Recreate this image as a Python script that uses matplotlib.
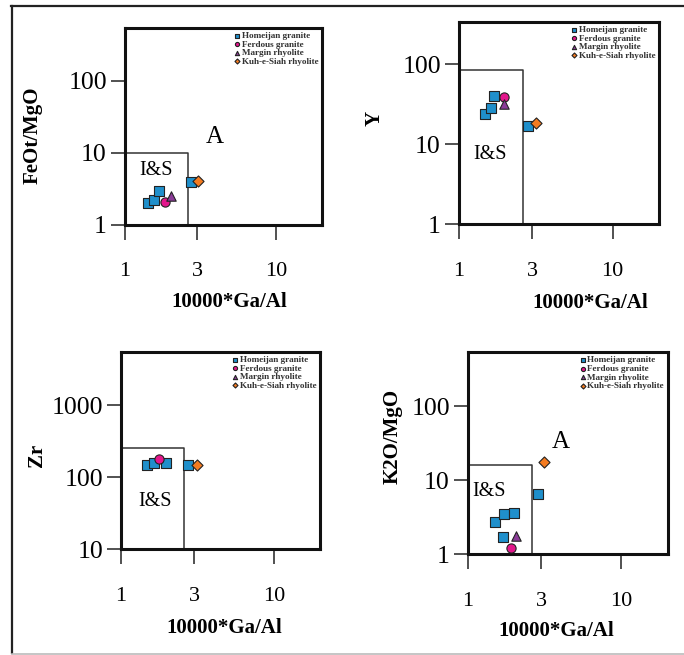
import matplotlib
matplotlib.use("Agg")
import matplotlib.pyplot as plt
from matplotlib.lines import Line2D

# ---- data ----
series_names = ["Homeijan granite", "Ferdous granite", "Margin rhyolite", "Kuh-e-Siah rhyolite"]

# FeOt/MgO vs 10000*Ga/Al
feo_hom_x = [1.42, 1.56, 1.68, 2.74]
feo_hom_y = [2.02, 2.22, 2.97, 3.96]
feo_fer_x = [1.84]
feo_fer_y = [2.09]
feo_mar_x = [2.02]
feo_mar_y = [2.55]
feo_kuh_x = [3.04]
feo_kuh_y = [4.08]

# Y vs 10000*Ga/Al
y_hom_x = [1.48, 1.62, 1.70, 2.83]
y_hom_y = [23.7, 28.5, 40.0, 16.8]
y_fer_x = [1.97]
y_fer_y = [38.6]
y_mar_x = [1.97]
y_mar_y = [31.6]
y_kuh_x = [3.19]
y_kuh_y = [18.3]

# Zr vs 10000*Ga/Al
zr_hom_x = [1.48, 1.65, 1.98, 2.76]
zr_hom_y = [147, 156, 156, 147]
zr_fer_x = [1.78]
zr_fer_y = [178]
zr_mar_x = []
zr_mar_y = []
zr_kuh_x = [3.16]
zr_kuh_y = [147]

# K2O/MgO vs 10000*Ga/Al
k_hom_x = [1.50, 1.72, 2.00, 1.69, 2.87]
k_hom_y = [2.71, 3.47, 3.58, 1.70, 6.5]
k_fer_x = [1.91]
k_fer_y = [1.20]
k_mar_x = [2.06]
k_mar_y = [1.75]
k_kuh_x = [3.14]
k_kuh_y = [17.5]

# I&S field limits
gaal_limit = 2.6
feo_limit = 10
y_limit = 85
zr_limit = 250
k_limit = 16

x_ticks = [1, 3, 10]

# ---- styles ----
colors = ["#1f8fcb", "#e3168c", "#8b3c98", "#f47b20"]
markers = ["s", "o", "^", "D"]
sizes = [50, 44, 46, 32]
serif = "Liberation Serif"


def draw_panel(ax, pts, ylim, yticks, limit, ylabel, ylab_pos, xlab_pos, is_pos, a_pos=None):
  for (px, py), c, m, s, name in zip(pts, colors, markers, sizes, series_names):
    ax.scatter(px, py, c=c, marker=m, s=s, edgecolors="#222222", linewidths=0.8,
               label=name, zorder=3)
  ax.set_xscale("log")
  ax.set_yscale("log")
  ax.set_xlim(1, 20)
  ax.set_ylim(*ylim)
  ax.set_xticks(x_ticks)
  ax.set_xticklabels([str(t) for t in x_ticks], fontfamily=serif, fontsize=16)
  ax.set_yticks(yticks)
  ax.set_yticklabels([str(t) for t in yticks], fontfamily=serif, fontsize=18.5)
  ax.minorticks_off()
  ax.tick_params(axis="x", direction="out", length=11, width=1.2, color="#333333", pad=16)
  ax.tick_params(axis="y", direction="out", length=10, width=1.2, color="#333333", pad=3)
  for sp in ax.spines.values():
    sp.set_linewidth(2.2)
    sp.set_color("#111111")
  # I&S field box
  ax.plot([1, gaal_limit, gaal_limit], [limit, limit, ylim[0]], color="#333333", lw=1.1, zorder=2)
  ax.text(is_pos[0], is_pos[1], "I&S", fontfamily=serif, fontsize=14.5, ha="center", va="center")
  if a_pos is not None:
    ax.text(a_pos[0], a_pos[1], "A", fontfamily=serif, fontsize=18, ha="center", va="center")
  ax.text(ylab_pos[0], ylab_pos[1], ylabel, transform=ax.transAxes, rotation=90,
          fontfamily=serif, fontweight="bold", fontsize=15, ha="center", va="center")
  ax.text(xlab_pos[0], xlab_pos[1], "10000*Ga/Al", transform=ax.transAxes,
          fontfamily=serif, fontweight="bold", fontsize=15, ha="center", va="center")
  leg = ax.legend(loc="upper right", frameon=False, markerscale=0.45,
                  labelspacing=0.02, handletextpad=0.1, handlelength=0.8,
                  borderaxespad=0.2, borderpad=0.2,
                  prop={"family": serif, "weight": "bold", "size": 6.6})
  for t in leg.get_texts():
    t.set_color("#333333")


fig = plt.figure(figsize=(6.84, 6.55), dpi=100)

ax1 = fig.add_axes([0.1827, 0.6565, 0.288, 0.3008])
draw_panel(ax1,
           [(feo_hom_x, feo_hom_y), (feo_fer_x, feo_fer_y), (feo_mar_x, feo_mar_y), (feo_kuh_x, feo_kuh_y)],
           (1, 545), [1, 10, 100], feo_limit, "FeOt/MgO",
           (-0.467, 0.457), (0.53, -0.39), (1.6, 5.8), (3.9, 16.7))

ax2 = fig.add_axes([0.671, 0.658, 0.2924, 0.3084])
draw_panel(ax2,
           [(y_hom_x, y_hom_y), (y_fer_x, y_fer_y), (y_mar_x, y_mar_y), (y_kuh_x, y_kuh_y)],
           (1, 335), [1, 10, 100], y_limit, "Y",
           (-0.42, 0.525), (0.655, -0.39), (1.6, 7.5))

ax3 = fig.add_axes([0.1769, 0.1618, 0.291, 0.3008])
draw_panel(ax3,
           [(zr_hom_x, zr_hom_y), (zr_fer_x, zr_fer_y), (zr_mar_x, zr_mar_y), (zr_kuh_x, zr_kuh_y)],
           (10, 5450), [10, 100, 1000], zr_limit, "Zr",
           (-0.42, 0.477), (0.52, -0.40), (1.67, 45))

ax4 = fig.add_axes([0.684, 0.154, 0.292, 0.308])
draw_panel(ax4,
           [(k_hom_x, k_hom_y), (k_fer_x, k_fer_y), (k_mar_x, k_mar_y), (k_kuh_x, k_kuh_y)],
           (1, 537), [1, 10, 100], k_limit, "K2O/MgO",
           (-0.375, 0.584), (0.445, -0.38), (1.37, 7.1), (4.0, 32.6))

# outer frame of the figure
fig.add_artist(Line2D([11 / 684, 1.0], [1 - 6 / 655, 1 - 6 / 655], color="#222222", lw=1.6))
fig.add_artist(Line2D([12 / 684, 12 / 684], [1 - 6 / 655, 1 - 653 / 655], color="#222222", lw=1.6))
fig.add_artist(Line2D([12 / 684, 1.0], [1 - 654 / 655, 1 - 654 / 655], color="#bbbbbb", lw=1.2))

fig.savefig("out.png", dpi=100)
